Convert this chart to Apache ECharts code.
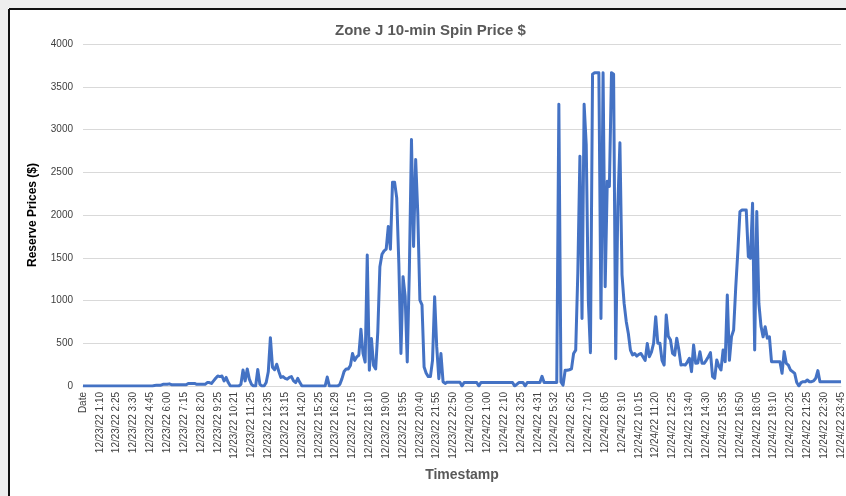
<!DOCTYPE html>
<html>
<head>
<meta charset="utf-8">
<script src="https://cdn.jsdelivr.net/npm/echarts@6/dist/echarts.min.js"></script>
<style>
  html, body { margin: 0; padding: 0; background: #fff; }
  #main { width: 846px; height: 496px; }
</style>
</head>
<body>
<div id="main"></div>
<script>
// labels shown on the category axis (every 8th point)
var tickLabels = ['Date',
    '12/23/22 1:10', '12/23/22 2:25', '12/23/22 3:30', '12/23/22 4:45', '12/23/22 6:00',
    '12/23/22 7:15', '12/23/22 8:20', '12/23/22 9:25', '12/23/22 10:21', '12/23/22 11:25',
    '12/23/22 12:35', '12/23/22 13:15', '12/23/22 14:20', '12/23/22 15:25', '12/23/22 16:29',
    '12/23/22 17:15', '12/23/22 18:10', '12/23/22 19:00', '12/23/22 19:55', '12/23/22 20:40',
    '12/23/22 21:55', '12/23/22 22:50', '12/24/22 0:00', '12/24/22 1:00', '12/24/22 2:10',
    '12/24/22 3:25', '12/24/22 4:31', '12/24/22 5:32', '12/24/22 6:25', '12/24/22 7:10',
    '12/24/22 8:05', '12/24/22 9:10', '12/24/22 10:15', '12/24/22 11:20', '12/24/22 12:25',
    '12/24/22 13:40', '12/24/22 14:30', '12/24/22 15:35', '12/24/22 16:50', '12/24/22 18:05',
    '12/24/22 19:10', '12/24/22 20:25', '12/24/22 21:25', '12/24/22 22:30', '12/24/22 23:45'];
var pointsPerLabel = 8;

// reserve price, $
var spinPrice = [
    0,0,0,0,0,0,0,0,0,0, 0,0,0,0,0,0,0,0,0,0, 0,0,0,0,0,0,0,0,0,0, 0,0,0,0,
    5,10,10,10,20,20,20,25,
    15,15,15,15,15,15,15,15,
    30,30,30,30,20,20,20,20,20,
    40,40,30,60,90,117,110,117,60,100,40,
    0,0,0,0,0,20,187,60,200,80,
    20,0,0,193,20,0,0,40,167,565,
    220,190,255,170,100,110,90,80,100,110,
    60,40,90,40,0,0,0,0,0,0,
    0,0,0,0,0,0,105,0,0,0,
    0,0,20,86,170,200,200,240,380,300,
    340,360,665,380,280,1533,184,555,240,200,
    630,1396,1540,1580,1600,1866,1600,2382,2382,2200,
    1435,380,1279,1050,282,1357,2882,1631,2648,2022,
    1005,950,223,150,110,110,300,1044,457,86,
    380,50,30,45,45,45,45,45,45,45,
    0,40,40,40,40,40,40,40,0,40,
    40,40,40,40,40,40,40,40,40,40,
    40,40,40,40,40,0,20,40,40,40,
    0,40,40,40,40,40,40,40,113,40,
    40,40,40,40,40,40,3294,47,10,184,
    184,190,200,380,420,1318,2688,790,3294,2825,
    1000,390,3646,3665,3665,3665,790,3665,1162,2394,
    2335,3665,3646,320,2100,2844,1300,966,755,614,
    420,363,380,350,370,380,340,300,497,343,
    400,500,811,500,500,300,245,830,580,540,
    382,360,558,420,245,250,245,280,325,168,
    480,265,270,400,265,265,300,343,390,110,
    90,305,230,187,420,285,1065,300,577,655,
    1150,1572,2040,2059,2059,2059,1513,1494,2137,421,
    2040,965,700,575,694,560,575,285,285,285,
    285,285,148,402,265,245,187,168,148,40,
    0,39,50,50,70,50,50,60,90,180,
    50,50,50,50,50,50,50,50,50,50,50
];

var categories = [];
for (var i = 0; i < spinPrice.length; i++) {
    var j = Math.floor(i / pointsPerLabel);
    var m = i % pointsPerLabel;
    categories.push(m === 0 ? tickLabels[j] : tickLabels[j] + ' +' + m);
}

var myChart = echarts.init(document.getElementById('main'));

myChart.setOption({
    animation: false,
    backgroundColor: '#ffffff',
    title: {
        text: 'Zone J 10-min Spin Price $',
        left: 330,
        top: 18,
        textStyle: {
            fontFamily: 'Liberation Sans',
            fontSize: 15,
            fontWeight: 'bold',
            color: '#595959'
        }
    },
    graphic: [
        {type: 'rect', shape: {x: 0, y: 0, width: 846, height: 8}, style: {fill: '#eeeeee'}, silent: true},
        {type: 'rect', shape: {x: 0, y: 0, width: 8, height: 496}, style: {fill: '#eeeeee'}, silent: true},
        {type: 'line', shape: {x1: 9, y1: 9, x2: 846, y2: 9}, style: {stroke: '#111', lineWidth: 2}, silent: true},
        {type: 'line', shape: {x1: 9, y1: 9, x2: 9, y2: 496}, style: {stroke: '#111', lineWidth: 2}, silent: true}
    ],
    grid: {
        left: 83,
        right: 4,
        top: 44,
        bottom: 110,
        containLabel: false
    },
    xAxis: {
        type: 'category',
        data: categories,
        boundaryGap: false,
        name: 'Timestamp',
        nameLocation: 'middle',
        nameGap: 82,
        nameTextStyle: {
            fontFamily: 'Liberation Sans',
            fontSize: 14,
            fontWeight: 'bold',
            color: '#595959'
        },
        axisLine: {show: true, lineStyle: {color: '#d9d9d9', width: 1}},
        axisTick: {show: false},
        axisLabel: {
            interval: pointsPerLabel - 1,
            rotate: 90,
            margin: 6,
            fontFamily: 'Liberation Sans',
            fontSize: 10,
            color: '#404040',
            formatter: function (value) {
                return value.split(' +')[0];
            }
        },
        splitLine: {show: false}
    },
    yAxis: {
        type: 'value',
        min: 0,
        max: 4000,
        interval: 500,
        name: 'Reserve Prices ($)',
        nameLocation: 'middle',
        nameGap: 44,
        nameTextStyle: {
            fontFamily: 'Liberation Sans',
            fontSize: 12,
            fontWeight: 'bold',
            color: '#000'
        },
        axisLine: {show: false},
        axisTick: {show: false},
        axisLabel: {
            margin: 10,
            fontFamily: 'Liberation Sans',
            fontSize: 10,
            color: '#404040',
            formatter: function (value) {
                return String(value);
            }
        },
        splitLine: {lineStyle: {color: '#d9d9d9', width: 1}}
    },
    series: [
        {
            name: 'Spin Price',
            type: 'line',
            data: spinPrice,
            showSymbol: false,
            lineStyle: {color: '#4472C4', width: 3, join: 'round'},
            itemStyle: {color: '#4472C4'}
        }
    ]
});
</script>
</body>
</html>
